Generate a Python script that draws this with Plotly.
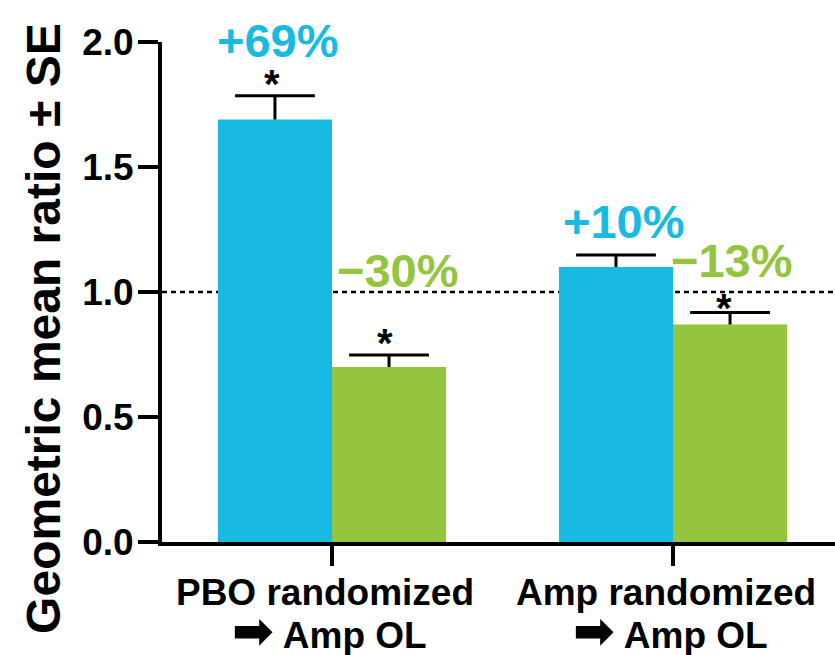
import plotly.graph_objects as go

# ---- data ----
categories = ["PBO randomized", "Amp randomized"]
second_line = ["Amp OL", "Amp OL"]
blue_values = [1.69, 1.10]
blue_se = [0.095, 0.048]
green_values = [0.70, 0.87]
green_se = [0.048, 0.048]
blue_labels = ["+69%", "+10%"]
green_labels = ["\u221230%", "\u221213%"]
blue_sig = [True, False]
green_sig = [True, True]
y_ticks = [0.0, 0.5, 1.0, 1.5, 2.0]
y_tick_labels = ["0.0", "0.5", "1.0", "1.5", "2.0"]
reference_line = 1.0

BLUE = "#19BAE2"
GREEN = "#95C43F"
FONT = "Liberation Sans, Arial, DejaVu Sans, sans-serif"
BARGAP = 0.331
half = (1 - BARGAP) / 4  # bar centre offset from category centre (x units)
xpos = list(range(len(categories)))

fig = go.Figure()
fig.add_trace(go.Bar(x=xpos, y=blue_values, marker=dict(color=BLUE, line=dict(width=0)),
                     offsetgroup="b", showlegend=False, hoverinfo="skip"))
fig.add_trace(go.Bar(x=xpos, y=green_values, marker=dict(color=GREEN, line=dict(width=0)),
                     offsetgroup="g", showlegend=False, hoverinfo="skip"))

# error bars: stem drawn downward from the top (no caps), cap drawn as a line marker
for vals, ses, sign in ((blue_values, blue_se, -1), (green_values, green_se, 1)):
    fig.add_trace(go.Scatter(
        x=[i + sign * half for i in xpos],
        y=[v + s for v, s in zip(vals, ses)],
        mode="markers",
        marker=dict(symbol="line-ew", size=57, color="black",
                    line=dict(color="black", width=3)),
        error_y=dict(type="data", array=[0] * len(ses), arrayminus=ses,
                     symmetric=False, color="black", thickness=3, width=0),
        showlegend=False, hoverinfo="skip", cliponaxis=False))

# reference dotted line
fig.add_shape(type="line", xref="paper", x0=0, x1=1, yref="y",
              y0=reference_line, y1=reference_line, layer="below",
              line=dict(color="black", width=2.5, dash="5px,4px"))

label_y_blue = [2.0, 1.284]
label_yshift_blue = [2, 0]
label_y_green = [1.088, 1.128]
label_dx_blue = [3, 8]
label_dx_green = [9, 2]
star_shift_blue = [12, 12]
star_shift_green = [12, 5]
star_dx_blue = [-3, -3]
star_dx_green = [-4, -6]

for i in xpos:
    fig.add_annotation(x=i - half, y=label_y_blue[i], text=blue_labels[i],
                       showarrow=False, xshift=label_dx_blue[i], yshift=label_yshift_blue[i],
                       yanchor="middle",
                       font=dict(family=FONT, size=47, color=BLUE, weight="bold"))
    fig.add_annotation(x=i + half, y=label_y_green[i], text=green_labels[i],
                       showarrow=False, xshift=label_dx_green[i], yanchor="middle",
                       font=dict(family=FONT, size=47, color=GREEN, weight="bold"))
    if blue_sig[i]:
        fig.add_annotation(x=i - half, y=blue_values[i] + blue_se[i], text="*",
                           showarrow=False, yanchor="middle",
                           xshift=star_dx_blue[i], yshift=star_shift_blue[i],
                           font=dict(family=FONT, size=40, color="black", weight="bold"))
    if green_sig[i]:
        fig.add_annotation(x=i + half, y=green_values[i] + green_se[i], text="*",
                           showarrow=False, yanchor="middle",
                           xshift=star_dx_green[i], yshift=star_shift_green[i],
                           font=dict(family=FONT, size=40, color="black", weight="bold"))
    # second line of the category label
    fig.add_annotation(x=i, xref="x", y=-0.178, yref="paper", showarrow=False,
                       text=f"<span style='font-size:50px'>➡</span> {second_line[i]}",
                       xanchor="center", yanchor="middle", xshift=-3,
                       font=dict(family=FONT, size=37, color="black", weight="bold"))

# y-axis title (as rotated text so it can sit where the original puts it)
fig.add_annotation(xref="paper", yref="paper", x=-0.177, y=0.428,
                   text="Geometric mean ratio ± SE", textangle=-90, showarrow=False,
                   xanchor="center", yanchor="middle",
                   font=dict(family=FONT, size=48, color="black", weight="bold"))

fig.update_layout(
    width=835, height=655,
    margin=dict(l=162, r=0, t=42, b=113, pad=0, autoexpand=False),
    paper_bgcolor="white", plot_bgcolor="white",
    barmode="group", bargap=BARGAP, bargroupgap=0,
    font=dict(family=FONT, color="black", weight="bold"),
    xaxis=dict(
        tickmode="array", tickvals=xpos, ticktext=categories,
        range=[-0.4985, 1.475], showgrid=False, zeroline=False,
        showline=True, linecolor="black", linewidth=4,
        ticks="outside", ticklen=20, tickwidth=4, tickcolor="black",
        tickfont=dict(family=FONT, size=37, color="black", weight="bold"),
        ticklabelshift=-7, ticklabelstandoff=-5, automargin=False,
    ),
    yaxis=dict(
        range=[0, 2.0], tickmode="array", tickvals=y_ticks, ticktext=y_tick_labels,
        showgrid=False, zeroline=False,
        showline=True, linecolor="black", linewidth=4,
        ticks="outside", ticklen=20, tickwidth=4, tickcolor="black",
        tickfont=dict(family=FONT, size=37, color="black", weight="bold"),
        ticklabelstandoff=-3, automargin=False,
    ),
)

fig.write_html("out.html")
